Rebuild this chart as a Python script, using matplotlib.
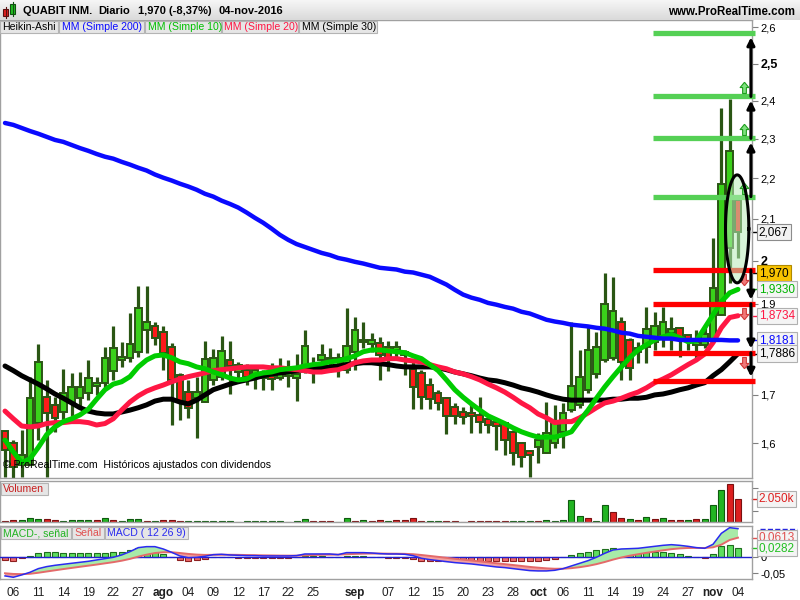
import numpy as np
import pandas as pd
import matplotlib
matplotlib.use("Agg")
import matplotlib.pyplot as plt
from matplotlib.patches import Rectangle
from matplotlib.path import Path
from matplotlib.colors import LinearSegmentedColormap
from matplotlib import transforms

plt.rcParams['font.family'] = ['Liberation Sans', 'DejaVu Sans']

# --- data ---
dates = pd.bdate_range('2016-07-05', '2016-11-04')

ha_open = [1.625, 1.601, 1.556, 1.556, 1.642, 1.695, 1.679, 1.664, 1.683, 1.693,
           1.704, 1.719, 1.726, 1.752, 1.775, 1.780, 1.793, 1.842, 1.849, 1.837,
           1.804, 1.743, 1.706, 1.693, 1.685, 1.732, 1.739, 1.775, 1.749, 1.754,
           1.745, 1.736, 1.741, 1.736, 1.741, 1.736, 1.754, 1.758, 1.775, 1.780,
           1.771, 1.754, 1.793, 1.815, 1.810, 1.813, 1.804, 1.797, 1.786, 1.756,
           1.747, 1.721, 1.704, 1.693, 1.675, 1.664, 1.662, 1.658, 1.650, 1.644,
           1.642, 1.623, 1.601, 1.584, 1.591, 1.580, 1.599, 1.623, 1.668, 1.679,
           1.711, 1.745, 1.775, 1.780, 1.860, 1.819, 1.793, 1.804, 1.815, 1.826,
           1.835, 1.846, 1.831, 1.808, 1.808, 1.819, 1.875, 2.030, 2.146]
ha_high = [1.625, 1.606, 1.627, 1.739, 1.810, 1.732, 1.695, 1.756, 1.747, 1.749,
           1.775, 1.739, 1.804, 1.851, 1.815, 1.880, 1.941, 1.941, 1.860, 1.849,
           1.813, 1.747, 1.732, 1.739, 1.817, 1.799, 1.828, 1.817, 1.771, 1.767,
           1.760, 1.754, 1.769, 1.780, 1.775, 1.788, 1.840, 1.782, 1.810, 1.801,
           1.791, 1.891, 1.871, 1.860, 1.835, 1.826, 1.817, 1.817, 1.797, 1.775,
           1.754, 1.736, 1.711, 1.695, 1.683, 1.675, 1.683, 1.695, 1.658, 1.644,
           1.644, 1.627, 1.603, 1.586, 1.621, 1.685, 1.679, 1.683, 1.860, 1.797,
           1.849, 1.837, 1.972, 1.962, 1.871, 1.824, 1.815, 1.893, 1.882, 1.893,
           1.871, 1.846, 1.831, 1.842, 1.853, 2.054, 2.380, 2.404, 2.146]
ha_low = [1.532, 1.530, 1.532, 1.556, 1.606, 1.532, 1.623, 1.642, 1.656, 1.675,
          1.689, 1.700, 1.715, 1.732, 1.760, 1.771, 1.782, 1.791, 1.808, 1.754,
          1.637, 1.648, 1.652, 1.610, 1.685, 1.721, 1.732, 1.702, 1.728, 1.721,
          1.713, 1.711, 1.711, 1.732, 1.717, 1.687, 1.747, 1.726, 1.754, 1.749,
          1.739, 1.747, 1.754, 1.801, 1.793, 1.732, 1.752, 1.775, 1.743, 1.670,
          1.670, 1.670, 1.668, 1.619, 1.640, 1.640, 1.621, 1.621, 1.621, 1.586,
          1.576, 1.556, 1.552, 1.532, 1.560, 1.580, 1.589, 1.589, 1.664, 1.673,
          1.704, 1.736, 1.771, 1.775, 1.732, 1.732, 1.769, 1.769, 1.797, 1.804,
          1.797, 1.782, 1.797, 1.775, 1.801, 1.813, 1.875, 1.948, 2.006]
ha_close = [1.586, 1.552, 1.576, 1.693, 1.771, 1.662, 1.652, 1.704, 1.717, 1.717,
            1.736, 1.726, 1.780, 1.801, 1.782, 1.810, 1.891, 1.860, 1.824, 1.791,
            1.732, 1.685, 1.673, 1.706, 1.778, 1.780, 1.795, 1.762, 1.765, 1.739,
            1.754, 1.743, 1.734, 1.749, 1.749, 1.745, 1.806, 1.765, 1.786, 1.775,
            1.780, 1.806, 1.840, 1.819, 1.819, 1.786, 1.780, 1.804, 1.793, 1.717,
            1.695, 1.691, 1.683, 1.656, 1.656, 1.654, 1.656, 1.644, 1.637, 1.635,
            1.606, 1.580, 1.572, 1.576, 1.606, 1.621, 1.644, 1.662, 1.719, 1.739,
            1.797, 1.804, 1.900, 1.884, 1.771, 1.758, 1.801, 1.844, 1.851, 1.860,
            1.844, 1.824, 1.817, 1.815, 1.833, 1.937, 2.186, 2.268, 2.067]

ma200 = [2.341, 2.336, 2.328, 2.320, 2.313, 2.305, 2.297, 2.292, 2.284, 2.276,
         2.269, 2.261, 2.254, 2.249, 2.241, 2.234, 2.226, 2.219, 2.209, 2.201,
         2.194, 2.186, 2.179, 2.171, 2.161, 2.154, 2.144, 2.136, 2.127, 2.115,
         2.102, 2.090, 2.076, 2.061, 2.049, 2.039, 2.032, 2.025, 2.018, 2.013,
         2.006, 2.002, 1.997, 1.993, 1.988, 1.983, 1.981, 1.979, 1.974, 1.972,
         1.967, 1.962, 1.953, 1.944, 1.932, 1.921, 1.914, 1.909, 1.902, 1.898,
         1.893, 1.889, 1.882, 1.878, 1.871, 1.864, 1.860, 1.857, 1.853, 1.851,
         1.849, 1.846, 1.844, 1.840, 1.835, 1.833, 1.828, 1.826, 1.824, 1.822,
         1.822, 1.819, 1.819, 1.819, 1.819, 1.819, 1.819, 1.818, 1.818]
ma10 = [1.606, 1.582, 1.560, 1.568, 1.591, 1.617, 1.633, 1.644, 1.650, 1.658,
        1.670, 1.691, 1.711, 1.723, 1.728, 1.739, 1.760, 1.775, 1.784, 1.786,
        1.780, 1.771, 1.767, 1.760, 1.756, 1.749, 1.743, 1.736, 1.732, 1.734,
        1.743, 1.747, 1.749, 1.754, 1.756, 1.758, 1.762, 1.765, 1.767, 1.771,
        1.773, 1.778, 1.784, 1.793, 1.797, 1.797, 1.795, 1.793, 1.791, 1.784,
        1.778, 1.765, 1.752, 1.732, 1.711, 1.695, 1.681, 1.668, 1.656, 1.648,
        1.640, 1.631, 1.623, 1.617, 1.612, 1.612, 1.612, 1.617, 1.623, 1.646,
        1.668, 1.693, 1.717, 1.739, 1.760, 1.780, 1.797, 1.808, 1.819, 1.826,
        1.831, 1.824, 1.815, 1.817, 1.846, 1.875, 1.905, 1.925, 1.933]
ma20 = [1.666, 1.650, 1.635, 1.633, 1.635, 1.640, 1.642, 1.642, 1.644, 1.644,
        1.642, 1.637, 1.640, 1.650, 1.668, 1.685, 1.698, 1.708, 1.715, 1.721,
        1.728, 1.734, 1.739, 1.743, 1.747, 1.752, 1.754, 1.756, 1.758, 1.760,
        1.760, 1.760, 1.758, 1.758, 1.756, 1.754, 1.752, 1.749, 1.749, 1.752,
        1.754, 1.760, 1.769, 1.773, 1.775, 1.775, 1.778, 1.778, 1.775, 1.773,
        1.771, 1.765, 1.760, 1.756, 1.749, 1.745, 1.739, 1.732, 1.723, 1.715,
        1.706, 1.695, 1.683, 1.673, 1.660, 1.652, 1.642, 1.644, 1.644, 1.652,
        1.662, 1.673, 1.683, 1.687, 1.693, 1.700, 1.706, 1.715, 1.726, 1.734,
        1.743, 1.754, 1.765, 1.775, 1.788, 1.813, 1.846, 1.869, 1.873]
ma30 = [1.762, 1.752, 1.741, 1.732, 1.723, 1.713, 1.702, 1.693, 1.683, 1.673,
        1.666, 1.662, 1.660, 1.660, 1.664, 1.668, 1.673, 1.679, 1.687, 1.691,
        1.691, 1.685, 1.681, 1.689, 1.700, 1.711, 1.717, 1.723, 1.728, 1.732,
        1.736, 1.741, 1.745, 1.747, 1.749, 1.752, 1.754, 1.756, 1.758, 1.760,
        1.762, 1.765, 1.767, 1.769, 1.769, 1.767, 1.765, 1.762, 1.760, 1.760,
        1.760, 1.760, 1.758, 1.754, 1.749, 1.745, 1.741, 1.736, 1.732, 1.730,
        1.726, 1.721, 1.715, 1.711, 1.706, 1.700, 1.695, 1.691, 1.689, 1.689,
        1.689, 1.689, 1.689, 1.691, 1.691, 1.693, 1.693, 1.695, 1.700, 1.702,
        1.706, 1.711, 1.715, 1.721, 1.726, 1.741, 1.754, 1.771, 1.789]

volume_k = [115, 180, 205, 330, 240, 295, 150, 115, 150, 150,
            150, 150, 355, 150, 90, 240, 295, 115, 90, 180,
            180, 90, 90, 90, 90, 90, 90, 90, 20, 90,
            90, 90, 90, 90, 20, 90, 265, 90, 90, 90,
            20, 355, 90, 180, 90, 180, 90, 180, 205, 355,
            90, 90, 90, 90, 90, 20, 90, 90, 90, 90,
            90, 90, 90, 90, 90, 180, 90, 180, 1990, 565,
            355, 90, 1545, 890, 355, 270, 210, 445, 270, 355,
            210, 210, 180, 270, 270, 1545, 2880, 3410, 2050]
volume_up = [0, 0, 1, 1, 1, 0, 0, 1, 1, 1,
             1, 0, 1, 0, 1, 1, 1, 0, 1, 0,
             0, 0, 1, 1, 1, 1, 1, 1, 1, 1,
             1, 1, 1, 1, 1, 1, 1, 0, 0, 0,
             1, 1, 0, 1, 0, 0, 1, 0, 0, 0,
             0, 1, 1, 0, 0, 0, 0, 0, 0, 0,
             0, 1, 1, 1, 0, 1, 1, 1, 1, 1,
             0, 1, 1, 0, 0, 1, 0, 1, 0, 1,
             0, 0, 1, 0, 1, 1, 1, 0, 0]

macd = [-0.0582, -0.0624, -0.0551, -0.0468, -0.0354, -0.0291, -0.0250, -0.0218, -0.0187, -0.0156,
        -0.0125, -0.0083, -0.0042, 0.0, 0.0073, 0.0177, 0.0302, 0.0333, 0.0333, 0.0260,
        0.0156, 0.0042, -0.0010, 0.0, 0.0031, 0.0083, 0.0094, 0.0073, 0.0062, 0.0052,
        0.0052, 0.0042, 0.0042, 0.0042, 0.0042, 0.0052, 0.0104, 0.0104, 0.0104, 0.0104,
        0.0083, 0.0146, 0.0146, 0.0146, 0.0135, 0.0114, 0.0104, 0.0104, 0.0094, 0.0052,
        -0.0031, -0.0073, -0.0104, -0.0135, -0.0166, -0.0187, -0.0208, -0.0239, -0.0270, -0.0302,
        -0.0322, -0.0354, -0.0385, -0.0416, -0.0426, -0.0426, -0.0406, -0.0354, -0.0270, -0.0187,
        -0.0104, 0.0, 0.0125, 0.0229, 0.0260, 0.0270, 0.0281, 0.0312, 0.0343, 0.0374,
        0.0395, 0.0374, 0.0343, 0.0302, 0.0281, 0.0406, 0.0749, 0.0926, 0.0895]
signal = [-0.0499, -0.0520, -0.0526, -0.0515, -0.0483, -0.0444, -0.0406, -0.0368, -0.0332, -0.0296,
          -0.0262, -0.0227, -0.0189, -0.0152, -0.0107, -0.0050, 0.0021, 0.0083, 0.0133, 0.0158,
          0.0158, 0.0135, 0.0106, 0.0085, 0.0075, 0.0077, 0.0080, 0.0079, 0.0076, 0.0071,
          0.0067, 0.0061, 0.0058, 0.0054, 0.0052, 0.0052, 0.0062, 0.0071, 0.0078, 0.0083,
          0.0083, 0.0096, 0.0105, 0.0113, 0.0118, 0.0118, 0.0114, 0.0112, 0.0108, 0.0097,
          0.0072, 0.0043, 0.0014, -0.0017, -0.0047, -0.0075, -0.0102, -0.0129, -0.0157, -0.0186,
          -0.0213, -0.0241, -0.0270, -0.0300, -0.0324, -0.0345, -0.0358, -0.0357, -0.0339, -0.0309,
          -0.0268, -0.0214, -0.0147, -0.0072, -0.0005, 0.0050, 0.0096, 0.0139, 0.0180, 0.0218,
          0.0254, 0.0278, 0.0291, 0.0293, 0.0291, 0.0312, 0.0395, 0.0541, 0.0613]

green_levels = [2.154, 2.301, 2.411, 2.584]
red_levels = [1.978, 1.900, 1.791, 1.730]
ellipse_span = (1.948, 2.208)   # price range circled around the last bars
real_close = 1.970

tick_dates = ['2016-07-06', '2016-07-11', '2016-07-14', '2016-07-19', '2016-07-22', '2016-07-27',
              '2016-08-01', '2016-08-04', '2016-08-09', '2016-08-12', '2016-08-17', '2016-08-22',
              '2016-08-25', '2016-09-01', '2016-09-07', '2016-09-12', '2016-09-15', '2016-09-20',
              '2016-09-23', '2016-09-28', '2016-10-03', '2016-10-06', '2016-10-11', '2016-10-14',
              '2016-10-19', '2016-10-24', '2016-10-27', '2016-11-01', '2016-11-04']
tick_labels = ['06', '11', '14', '19', '22', '27', 'ago', '04', '09', '12', '17', '22', '25',
               'sep', '07', '12', '15', '20', '23', '28', 'oct', '06', '11', '14', '19', '24',
               '27', 'nov', '04']
month_labels = {'ago', 'sep', 'oct', 'nov'}

# --- colours ---
WICK = '#2a5614'
UP = '#3ad11a'
DOWN = '#ff1a1a'
GRAY = '#a0a0a0'

W, H = 800, 600
fig = plt.figure(figsize=(8, 6), dpi=100)
fig.patch.set_facecolor('white')


def px_axes(x0, y0, x1, y1):
    return fig.add_axes([x0 / W, 1 - y1 / H, (x1 - x0) / W, (y1 - y0) / H])


def px_box(x0, y0, x1, y1, fc, ec):
    fig.add_artist(Rectangle((x0 / W, 1 - y1 / H), (x1 - x0) / W, (y1 - y0) / H,
                             transform=fig.transFigure, fc=fc, ec=ec, lw=0.8))


def fwd(p):
    return np.log(np.clip(np.asarray(p, dtype=float), -1.0, None) + 1.05)


def inv(v):
    return np.exp(np.asarray(v, dtype=float)) - 1.05


n = len(dates)
x = np.arange(n)
XLIM = (-0.6, 89.68)
tick_pos = [dates.get_loc(pd.Timestamp(d)) for d in tick_dates]

ax = px_axes(0, 20, 752, 478)
axv = px_axes(0, 481, 752, 522)
axm = px_axes(0, 526, 752, 579)

for a in (ax, axv, axm):
    a.set_xlim(*XLIM)
    for s in a.spines.values():
        s.set_color(GRAY)
        s.set_linewidth(1)
    a.yaxis.tick_right()
    a.tick_params(axis='y', direction='out', length=4, width=0.8, color='#808080',
                  labelsize=8, pad=2)
    a.tick_params(axis='x', length=0)
    a.set_xticks([])

# --- main price panel ---
ax.set_yscale('function', functions=(fwd, inv))
ax.set_ylim(1.5295, 2.621)

o, hi, lo, c = map(np.array, (ha_open, ha_high, ha_low, ha_close))
up = c >= o
ax.vlines(x, lo, hi, color=WICK, lw=2.3, zorder=2)
ax.bar(x, np.abs(c - o), bottom=np.minimum(o, c), width=0.8,
       color=np.where(up, UP, DOWN), edgecolor=WICK, linewidth=1.4, zorder=3)

ax.plot(x, ma30, color='black', lw=3.6, zorder=4, solid_capstyle='round')
ax.plot(x, ma20, color='#ff1744', lw=3.6, zorder=4, solid_capstyle='round')
ax.plot(x, ma10, color='#00cc00', lw=3.6, zorder=4, solid_capstyle='round')
ax.plot(x, ma200, color='#0a0aff', lw=3.2, zorder=4, solid_capstyle='round')

LEVEL_X0 = 77.8
ARROW_X = 89.55
xr = XLIM[1] + 0.35
ax.hlines(green_levels, LEVEL_X0, xr, color='#55d055', lw=3.8, zorder=5, clip_on=False)
ax.hlines(red_levels, LEVEL_X0, xr, color='#ff0000', lw=3.8, zorder=5, clip_on=False)

for lv in (green_levels, red_levels):
    for a0, a1 in zip(lv[:-1], lv[1:]):
        ax.annotate('', xy=(ARROW_X, a1), xytext=(ARROW_X, a0), annotation_clip=False,
                    arrowprops=dict(arrowstyle='-|>', color='black', lw=2.2,
                                    mutation_scale=11, shrinkA=0, shrinkB=3), zorder=6)

block_up = Path([(0, 1), (0.7, 0.15), (0.3, 0.15), (0.3, -0.8), (-0.3, -0.8),
                 (-0.3, 0.15), (-0.7, 0.15), (0, 1)])
block_dn = Path([(vx, -vy) for vx, vy in block_up.vertices])
up_tr = transforms.offset_copy(ax.transData, fig=fig, x=-7, y=8, units='dots')
dn_tr = transforms.offset_copy(ax.transData, fig=fig, x=-7, y=-9, units='dots')
for lv in green_levels[:-1]:
    ax.plot([ARROW_X], [lv], marker=block_up, ms=9, mfc='#7ee07e', mec='#1e9e1e',
            mew=0.8, transform=up_tr, clip_on=False, zorder=6)
for lv in red_levels[:-1]:
    ax.plot([ARROW_X], [lv], marker=block_dn, ms=9, mfc='#f07878', mec='#d03a3a',
            mew=0.8, transform=dn_tr, clip_on=False, zorder=6)

# ellipse around the last bars, drawn in scaled price space
t = np.linspace(0, 2 * np.pi, 120)
e_lo, e_hi = fwd(ellipse_span[0]), fwd(ellipse_span[1])
ex = (n - 1.1) + 1.4 * np.cos(t)
ey = inv((e_lo + e_hi) / 2 + (e_hi - e_lo) / 2 * np.sin(t))
ax.fill(ex, ey, color='#b8ecb8', alpha=0.55, zorder=5, lw=0)
ax.plot(ex, ey, color='black', lw=2.2, zorder=6)

price_ticks = [2.6, 2.5, 2.4, 2.3, 2.2, 2.1, 2.0, 1.9, 1.7, 1.6]
ax.set_yticks(price_ticks)
ax.set_yticklabels([('%g' % v).replace('.', ',') for v in price_ticks])
ax.yaxis.set_minor_locator(matplotlib.ticker.NullLocator())
for lab, v in zip(ax.get_yticklabels(), price_ticks):
    if v in (2.5, 2.0):
        lab.set_fontweight('bold')
        lab.set_fontsize(9)

rtr = transforms.blended_transform_factory(ax.transAxes, ax.transData)
boxes = [(ha_close[-1], '2,067', 'black', '#f2f2f2', '#8c8c8c'),
         (real_close, '1,970', 'black', '#f7c200', '#b08a00'),
         (ma10[-1], '1,9330', '#00b400', '#f4f4f4', '#b0b0b0'),
         (ma20[-1], '1,8734', '#ff1744', '#f4f4f4', '#b0b0b0'),
         (ma200[-1], '1,8181', '#0a0aff', '#f4f4f4', '#b0b0b0'),
         (ma30[-1], '1,7886', 'black', '#f4f4f4', '#b0b0b0')]
for v, s, tc, fc, ec in boxes:
    ax.plot([1.0, 1.008], [v, v], transform=rtr, color=tc, lw=1, clip_on=False)
    ax.text(1.009, v, s, transform=rtr, color=tc, fontsize=8.5, va='center', ha='left',
            bbox=dict(boxstyle='square,pad=0.18', fc=fc, ec=ec, lw=0.8), zorder=7)

ax.text(0.004, 0.017, '\u00a9 ProRealTime.com  Hist\u00f3ricos ajustados con dividendos',
        transform=ax.transAxes, fontsize=7.6, color='black', va='bottom', ha='left', zorder=8)

# --- volume panel ---
vup = np.array(volume_up, dtype=bool)
axv.bar(x, volume_k, width=0.72, color=np.where(vup, '#22b422', '#dd1f1f'),
        edgecolor=np.where(vup, '#0f5a0f', '#7a1010'), linewidth=0.8)
axv.set_ylim(0, 3650)
axv.set_yticks([1000, 3000])
axv.set_yticklabels(['', ''])
vtr = transforms.blended_transform_factory(axv.transAxes, axv.transData)
axv.plot([1.0, 1.008], [volume_k[-1]] * 2, transform=vtr, color='#dd1f1f', lw=1, clip_on=False)
axv.text(1.009, volume_k[-1], '2.050k', transform=vtr, color='#dd1f1f', fontsize=8.5,
         va='center', ha='left', bbox=dict(boxstyle='square,pad=0.18', fc='#f4f4f4',
                                           ec='#b0b0b0', lw=0.8))

# --- MACD panel ---
mc, sg = np.array(macd), np.array(signal)
hist = mc - sg
hup = hist >= 0
axm.bar(x, hist, width=0.72, color=np.where(hup, '#5ede5e', '#ef6a6a'),
        edgecolor=np.where(hup, '#1f6e1f', '#8e2020'), linewidth=0.8, zorder=2)
axm.axhline(0, color='#2020d0', lw=1, zorder=3)
axm.fill_between(x, mc, sg, where=mc >= sg, interpolate=True, color='#a8eaa8', zorder=3, lw=0)
axm.fill_between(x, mc, sg, where=mc < sg, interpolate=True, color='#f2a0a0', zorder=3, lw=0)
axm.plot(x, sg, color='#e46a6a', lw=1.4, zorder=4)
axm.plot(x, mc, color='#2a2af0', lw=1.1, zorder=4)
axm.set_ylim(-0.0678, 0.0978)
axm.set_yticks([0, -0.05])
axm.set_yticklabels(['0', '-0,05'])
mtr = transforms.blended_transform_factory(axm.transAxes, axm.transData)
axm.plot([1.01, 1.06], [macd[-1]] * 2, transform=mtr, color='#2020e0', lw=1, ls='--',
         clip_on=False)
for v, s, tc in [(signal[-1], '0,0613', '#e05050'), (hist[-1], '0,0282', '#22c022')]:
    axm.plot([1.0, 1.008], [v, v], transform=mtr, color=tc, lw=1, clip_on=False)
    axm.text(1.009, v, s, transform=mtr, color=tc, fontsize=8.5, va='center', ha='left',
             bbox=dict(boxstyle='square,pad=0.18', fc='#f4f4f4', ec='#b0b0b0', lw=0.8))

axm.set_xticks(tick_pos)
axm.set_xticklabels(tick_labels)
axm.tick_params(axis='x', length=0, pad=6, labelsize=8.5, labelcolor='#202020')
for lab in axm.get_xticklabels():
    if lab.get_text() in month_labels:
        lab.set_fontweight('bold')

# --- header and legend strip ---
axh = fig.add_axes([0, 1 - 20 / H, 1, 20 / H])
axh.imshow(np.linspace(0, 1, 30).reshape(-1, 1), aspect='auto', extent=[0, 1, 0, 1],
           cmap=LinearSegmentedColormap.from_list('hdr', ['#f6f6f6', '#dadada']))
axh.axis('off')
px_box(3, 9, 8, 16, '#e02020', '#5a1010')
px_box(10, 4, 15, 14, '#22c022', '#105010')
fig.add_artist(plt.Line2D([5.5 / W, 5.5 / W], [1 - 18 / H, 1 - 7 / H], color='#5a1010', lw=0.8))
fig.add_artist(plt.Line2D([12.5 / W, 12.5 / W], [1 - 16 / H, 1 - 2 / H], color='#105010', lw=0.8))
for xp, s in [(23, 'QUABIT INM.'), (98, 'Diario'), (138, '1,970 (-8,37%)'), (218, '04-nov-2016')]:
    fig.text(xp / W, 1 - 11 / H, s, fontsize=8, fontweight='bold', va='center', ha='left')
fig.text(795 / W, 1 - 12 / H, 'www.ProRealTime.com', fontsize=8.3, fontweight='bold',
         va='center', ha='right')

legend = [(0, 58, 'Heikin-Ashi', 'black'), (59, 144, 'MM (Simple 200)', '#0a0aff'),
          (145, 221, 'MM (Simple 10)', '#00c000'), (222, 298, 'MM (Simple 20)', '#ff1744'),
          (299, 377, 'MM (Simple 30)', 'black')]
for x0, x1, s, col in legend:
    px_box(x0, 21, x1, 33, '#e6e6e6', '#b4b4b4')
    fig.text((x0 + 2.5) / W, 1 - 27.5 / H, s, fontsize=7.6, color=col, va='center', ha='left')

px_box(1, 483, 48, 495, '#e6e6e6', '#b4b4b4')
fig.text(3 / W, 1 - 489.5 / H, 'Volumen', fontsize=7.6, color='#c81e1e', va='center')
for x0, x1, s, col in [(1, 71, 'MACD-, se\u00f1al', '#22b422'), (72, 104, 'Se\u00f1al', '#e05050'),
                       (105, 188, 'MACD ( 12 26 9)', '#2a2af0')]:
    px_box(x0, 527, x1, 539, '#e6e6e6', '#b4b4b4')
    fig.text((x0 + 2) / W, 1 - 533.5 / H, s, fontsize=7.6, color=col, va='center')

fig.savefig('out.png', dpi=100)
